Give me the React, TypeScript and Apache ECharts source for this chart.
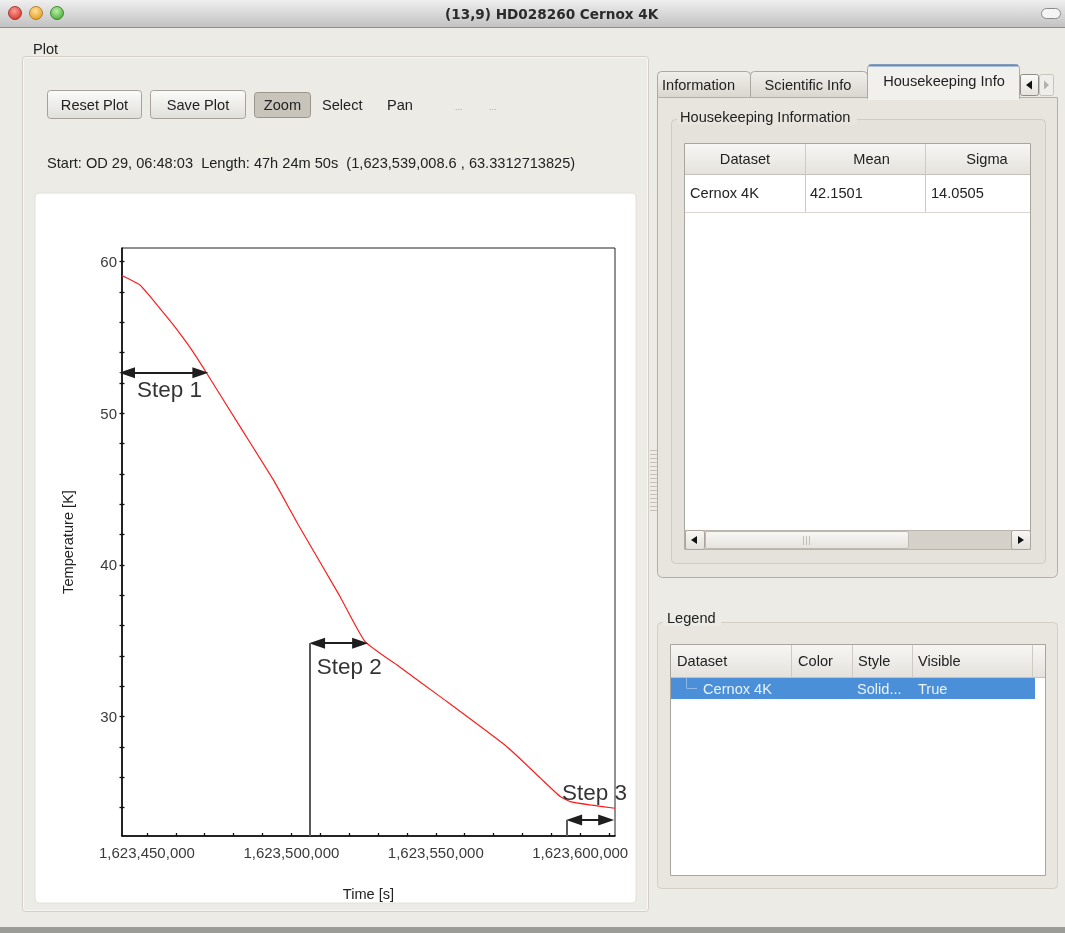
import React, { useEffect, useRef } from 'react';
import * as echarts from 'echarts';

// ---------- data ----------
const timeSeconds = [
  1623441360, 1623444480, 1623447590, 1623451060, 1623454520, 1623459130,
  1623462140, 1623465500, 1623470700, 1623482230, 1623493770, 1623502430,
  1623516870, 1623525530, 1623537650, 1623551510, 1623574610, 1623586150,
  1623593070, 1623596540, 1623603470, 1623612050,
];
const temperatureK = [
  59.09, 58.79, 58.46, 57.71, 56.91, 55.83,
  55.07, 54.18, 52.64, 49.12, 45.61, 42.64,
  37.91, 34.95, 33.26, 31.32, 28.02, 25.96,
  24.73, 24.4, 24.18, 23.96,
];
const timeRange = [1623441360, 1623612050];
const tempRange = [22.13, 60.9];
const xLabelTicks = [1623450000, 1623500000, 1623550000, 1623600000];
const xMinorTicks = [
  1623450000, 1623460000, 1623470000, 1623480000, 1623490000, 1623500000,
  1623510000, 1623520000, 1623530000, 1623540000, 1623550000, 1623560000,
  1623570000, 1623580000, 1623590000, 1623600000, 1623610000,
];
const yLabelTicks = [30, 40, 50, 60];
const yMinorTicks = [24, 26, 28, 30, 32, 34, 36, 38, 40, 42, 44, 46, 48, 50, 52, 54, 56, 58, 60];

const stepNames = ['Step 1', 'Step 2', 'Step 3'];
const stepArrowFrom = [1623443100, 1623508900, 1623597900];
const stepArrowTo = [1623468500, 1623523800, 1623609000];
const stepLevel = [52.68, 34.84, 23.19];
const stepMarkerTime = [null, 1623506260, 1623595360];
const stepLabelTime = [1623446560, 1623508800, 1623593660];
const stepLabelTemp = [51.54, 33.3, 25.02];

const windowTitle = '(13,9) HD028260 Cernox 4K';
const startInfo = 'Start: OD 29, 06:48:03  Length: 47h 24m 50s  (1,623,539,008.6 , 63.3312713825)';
const toolButtons = ['Reset Plot', 'Save Plot', 'Zoom', 'Select', 'Pan'];
const tabNames = ['Information', 'Scientific Info', 'Housekeeping Info'];
const statsColumns = ['Dataset', 'Mean', 'Sigma'];
const statsRow = ['Cernox 4K', '42.1501', '14.0505'];
const legendColumns = ['Dataset', 'Color', 'Style', 'Visible'];
const legendRow = ['Cernox 4K', '', 'Solid...', 'True'];

// ---------- helpers ----------
const FONT = '"Liberation Sans", Arial, Helvetica, sans-serif';
const vg = (a: string, b: string) => ({
  type: 'linear', x: 0, y: 0, x2: 0, y2: 1,
  colorStops: [{ offset: 0, color: a }, { offset: 1, color: b }],
});
const rg = (a: string, b: string) => ({
  type: 'radial', x: 0.45, y: 0.35, r: 0.7,
  colorStops: [{ offset: 0, color: a }, { offset: 1, color: b }],
});
function R(x: number, y: number, w: number, h: number, fill: any, stroke?: string, r?: any, lw = 1) {
  return {
    type: 'rect', z: -5, silent: true,
    shape: { x, y, width: w, height: h, r: r || 0 },
    style: { fill: fill || 'none', stroke: stroke || 'none', lineWidth: stroke ? lw : 0 },
  };
}
function L(x1: number, y1: number, x2: number, y2: number, stroke: string, lw = 1) {
  return { type: 'line', z: -4, silent: true, shape: { x1, y1, x2, y2 }, style: { stroke, lineWidth: lw } };
}
function P(points: number[][], fill: string) {
  return { type: 'polygon', z: -3, silent: true, shape: { points }, style: { fill } };
}
function T(x: number, y: number, s: string, o: any = {}) {
  return {
    type: 'text', z: 10, silent: true, x, y,
    style: {
      text: s,
      fill: o.fill || '#222',
      fontSize: o.size || 14.6,
      fontFamily: o.family || FONT,
      fontWeight: o.weight || 'normal',
      align: o.align || 'left',
      verticalAlign: 'middle',
      textAlign: o.align || 'left',
      textVerticalAlign: 'middle',
    },
  };
}

function buildGui() {
  const g: any[] = [];
  // window background & title bar
  g.push(R(0, 0, 1065, 933, '#ecebe6'));
  g.push(R(0, 0, 1065, 27, vg('#efefef', '#c2c2c2')));
  g.push(L(0, 27.5, 1065, 27.5, '#8e8e8e'));
  g.push({ type: 'circle', z: -3, silent: true, shape: { cx: 15, cy: 13, r: 6.5 }, style: { fill: rg('#ff9d94', '#d1322a'), stroke: '#9b2a22', lineWidth: 0.8 } });
  g.push({ type: 'circle', z: -3, silent: true, shape: { cx: 36, cy: 13, r: 6.5 }, style: { fill: rg('#ffe09a', '#e39a1f'), stroke: '#a8741c', lineWidth: 0.8 } });
  g.push({ type: 'circle', z: -3, silent: true, shape: { cx: 57, cy: 13, r: 6.5 }, style: { fill: rg('#b9f0a6', '#4aa838'), stroke: '#2f7a25', lineWidth: 0.8 } });
  g.push(T(445, 13.5, windowTitle, { family: '"DejaVu Sans", sans-serif', weight: 'bold', size: 13.6, fill: '#2b2b2b' }));
  g.push(R(1041.5, 8.5, 19, 10, '#f4f4f4', '#8a8a8a', 5));

  // Plot group
  g.push(R(22.5, 56.5, 626, 855, 'none', '#d3cfc8', 3));
  g.push(R(23.5, 57.5, 624, 853, 'none', '#f8f7f4', 3));
  g.push(T(33, 49, 'Plot'));
  // buttons
  g.push(R(47.5, 90.5, 94, 28, vg('#fbfbfa', '#e2dfda'), '#a6a29b', 3));
  g.push(T(94.5, 104.5, toolButtons[0], { align: 'center' }));
  g.push(R(150.5, 90.5, 95, 28, vg('#fbfbfa', '#e2dfda'), '#a6a29b', 3));
  g.push(T(198, 104.5, toolButtons[1], { align: 'center' }));
  g.push(R(254.5, 92.5, 56, 25, '#c9c4bb', '#9a958c', 3));
  g.push(T(282.5, 104.5, toolButtons[2], { align: 'center' }));
  g.push(T(322, 104.5, toolButtons[3]));
  g.push(T(387, 104.5, toolButtons[4]));
  g.push(T(455, 107, '...', { size: 9, fill: '#a3a3a3' }));
  g.push(T(489, 107, '...', { size: 9, fill: '#a3a3a3' }));
  g.push(T(47, 163, startInfo));
  // white plot panel
  g.push(R(35, 193, 601, 710, '#ffffff', '#e3e0db', 4));

  // tabs
  g.push(R(657.5, 71.5, 93, 26, vg('#f1efeb', '#dad6cf'), '#aca79f', [4, 4, 0, 0]));
  g.push(T(662, 84.5, tabNames[0]));
  g.push(R(750.5, 71.5, 117, 26, vg('#f1efeb', '#dad6cf'), '#aca79f', [4, 4, 0, 0]));
  g.push(T(808, 84.5, tabNames[1], { align: 'center' }));
  // tab panel
  g.push(R(657.5, 97.5, 400, 480, '#e8e5df', '#b3aea6', [0, 0, 5, 5]));
  g.push(R(867.5, 64.5, 152, 34, '#f2f0ec', '#aca79f', [4, 4, 0, 0]));
  g.push(R(868, 96, 151, 4, '#f2f0ec'));
  g.push(L(869, 65.5, 1018, 65.5, '#5d8fcf', 2));
  g.push(T(944, 81, tabNames[2], { align: 'center' }));
  g.push(R(1020.5, 74.5, 18, 21, vg('#fbfaf8', '#e6e3de'), '#8f8b85', 2));
  g.push(P([[1026, 85], [1032, 80.5], [1032, 89.5]], '#111'));
  g.push(R(1039.5, 74.5, 14, 21, '#efeeeb', '#c8c4be', 2));
  g.push(P([[1044, 80.5], [1044, 89.5], [1049, 85]], '#b4b0aa'));

  // housekeeping group
  g.push(R(671.5, 119.5, 374, 444, '#e5e2dc', '#cfcac2', 4));
  g.push(R(677, 109, 180, 16, '#e8e5df'));
  g.push(T(680, 116.5, 'Housekeeping Information'));
  // stats table
  g.push(R(684.5, 143.5, 346, 406, '#ffffff', '#a9a59e'));
  g.push(R(685, 144, 345, 30, vg('#f7f6f4', '#e5e2dd')));
  g.push(L(685, 174.5, 1030, 174.5, '#c6c2bb'));
  g.push(L(805.5, 144, 805.5, 212, '#cfcbc4'));
  g.push(L(925.5, 144, 925.5, 212, '#cfcbc4'));
  g.push(L(685, 212.5, 1030, 212.5, '#d9d6d0'));
  g.push(T(745, 159, statsColumns[0], { align: 'center' }));
  g.push(T(871.5, 159, statsColumns[1], { align: 'center' }));
  g.push(T(987, 159, statsColumns[2], { align: 'center' }));
  g.push(T(690, 193, statsRow[0]));
  g.push(T(810, 193, statsRow[1]));
  g.push(T(931, 193, statsRow[2]));
  // scrollbar
  g.push(R(685, 530.5, 345, 19, '#d6d1c8', '#b9b4ac'));
  g.push(R(705.5, 531.5, 203, 17, vg('#f8f7f4', '#e6e3de'), '#bdb8b0', 2));
  g.push(L(803.5, 536, 803.5, 545, '#c3beb6'));
  g.push(L(806.5, 536, 806.5, 545, '#c3beb6'));
  g.push(L(809.5, 536, 809.5, 545, '#c3beb6'));
  g.push(R(685.5, 530.5, 19, 19, vg('#f8f7f4', '#e3e0db'), '#a9a59e', 2));
  g.push(P([[691, 540], [697, 536], [697, 544]], '#111'));
  g.push(R(1011.5, 530.5, 19, 19, vg('#f8f7f4', '#e3e0db'), '#a9a59e', 2));
  g.push(P([[1018, 536], [1018, 544], [1024, 540]], '#111'));
  // splitter grip
  for (let y = 450; y <= 510; y += 4) g.push(L(650, y + 0.5, 657, y + 0.5, '#c6c2bb'));

  // legend group
  g.push(R(657.5, 622.5, 400, 266, '#e9e6e0', '#d3cec6', 4));
  g.push(R(663, 610, 58, 16, '#ecebe6'));
  g.push(T(667, 617.5, 'Legend'));
  g.push(R(670.5, 644.5, 375, 231, '#ffffff', '#a9a59e'));
  g.push(R(671, 645, 374, 32, vg('#f7f6f4', '#e5e2dd')));
  g.push(L(671, 677.5, 1045, 677.5, '#c6c2bb'));
  [791.5, 852.5, 912.5, 1032.5].forEach((x) => g.push(L(x, 645, x, 677, '#cfcbc4')));
  g.push(T(677, 661, legendColumns[0]));
  g.push(T(798, 661, legendColumns[1]));
  g.push(T(858, 661, legendColumns[2]));
  g.push(T(918, 661, legendColumns[3]));
  g.push(R(671, 678, 364, 21, '#4a8fd8'));
  g.push(L(686.5, 678, 686.5, 688, '#8fb8e6'));
  g.push(L(686.5, 688.5, 697, 688.5, '#8fb8e6'));
  g.push(T(703, 688.5, legendRow[0], { fill: '#e9f3ff' }));
  g.push(T(857, 688.5, legendRow[2], { fill: '#e9f3ff' }));
  g.push(T(918, 688.5, legendRow[3], { fill: '#e9f3ff' }));

  // bottom status bar
  g.push(R(0, 927, 1065, 6, '#9b9b98'));
  return g;
}

export default function App() {
  const ref = useRef<HTMLDivElement>(null);
  useEffect(() => {
    if (!ref.current) return;
    const chart = echarts.init(ref.current, undefined, { renderer: 'svg' });
    const lineData = timeSeconds.map((t, i) => [t, temperatureK[i]]);
    const arrowData: any[] = [];
    stepNames.forEach((_, i) => {
      arrowData.push([
        { coord: [stepArrowFrom[i], stepLevel[i]], symbol: 'triangle' },
        { coord: [stepArrowTo[i], stepLevel[i]], symbol: 'triangle' },
      ]);
      if (stepMarkerTime[i] != null) {
        arrowData.push([
          { coord: [stepMarkerTime[i], stepLevel[i]], symbol: 'none', lineStyle: { color: '#5a5a5a', width: 2 } },
          { coord: [stepMarkerTime[i], tempRange[0]], symbol: 'none' },
        ]);
      }
    });
    const axisFont = { fontFamily: FONT, fontSize: 15, color: '#3a3a3a' };
    chart.setOption({
      animation: false,
      backgroundColor: 'transparent',
      graphic: { elements: buildGui() },
      grid: {
        left: 122, top: 248, width: 493, height: 588,
        show: true, borderColor: '#222', borderWidth: 1, backgroundColor: 'transparent',
      },
      xAxis: {
        type: 'value', min: timeRange[0], max: timeRange[1], position: 'bottom',
        name: 'Time [s]', nameLocation: 'middle', nameGap: 50,
        nameTextStyle: { fontFamily: FONT, fontSize: 14.6, color: '#222' },
        axisLine: { show: true, onZero: false, lineStyle: { color: '#000', width: 1.5 } },
        axisTick: { show: true, inside: true, length: 3, customValues: xMinorTicks, lineStyle: { color: '#111', width: 1.3 } },
        axisLabel: { ...axisFont, margin: 9, customValues: xLabelTicks, formatter: (v: number) => Number(v).toLocaleString('en-US') },
        splitLine: { show: false },
      },
      yAxis: [
        {
          type: 'value', min: tempRange[0], max: tempRange[1], position: 'left',
          name: 'Temperature [K]', nameLocation: 'middle', nameGap: 47,
          nameTextStyle: { fontFamily: FONT, fontSize: 14.6, color: '#222' },
          axisLine: { show: true, onZero: false, lineStyle: { color: '#000', width: 1.5 } },
          axisTick: { show: true, inside: false, length: 2.5, customValues: yMinorTicks, lineStyle: { color: '#111', width: 1.3 } },
          axisLabel: { ...axisFont, margin: 5, customValues: yLabelTicks },
          splitLine: { show: false },
        },
        {
          type: 'value', min: tempRange[0], max: tempRange[1], position: 'left', offset: 0,
          axisLine: { show: false },
          axisTick: { show: true, inside: true, length: 2.5, customValues: yMinorTicks, lineStyle: { color: '#111', width: 1.3 } },
          axisLabel: { show: false },
          splitLine: { show: false },
        },
      ],
      series: [
        {
          name: 'Cernox 4K', type: 'line', data: lineData, showSymbol: false, smooth: 0.15,
          lineStyle: { color: '#ff1c1c', width: 1.2 }, z: 3, silent: true,
        },
        {
          name: 'Steps', type: 'scatter', clip: false, symbolSize: 0, silent: true, z: 4,
          itemStyle: { color: 'rgba(0,0,0,0)' },
          data: stepNames.map((n, i) => ({ name: n, value: [stepLabelTime[i], stepLabelTemp[i]] })),
          label: {
            show: true, position: 'right', distance: 0, formatter: '{b}',
            fontFamily: FONT, fontSize: 22.5, color: '#000', textBorderWidth: 0,
          },
          markLine: {
            silent: true, symbolSize: [11, 16], label: { show: false },
            lineStyle: { color: '#1e1e1e', width: 2, type: 'solid' },
            emphasis: { disabled: true },
            data: arrowData,
          },
        },
      ],
    });
    return () => chart.dispose();
  }, []);
  return <div ref={ref} style={{ position: 'fixed', left: 0, top: 0, width: 1065, height: 933 }} />;
}
